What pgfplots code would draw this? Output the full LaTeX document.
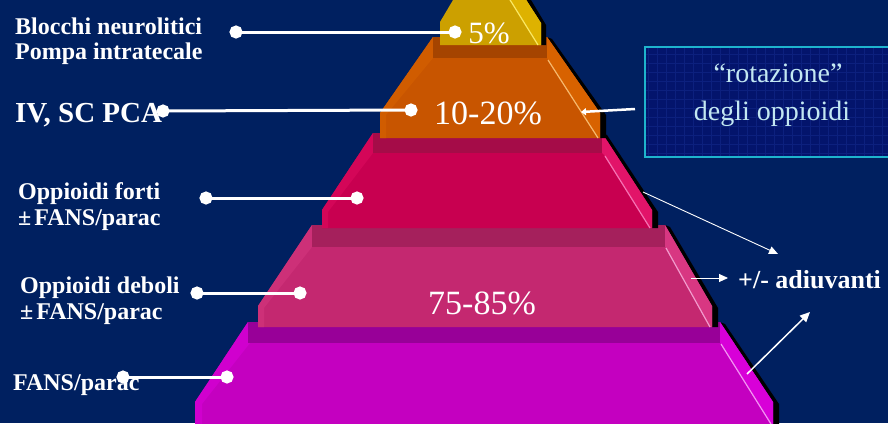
\documentclass[border=0pt]{standalone}
\usepackage{fontspec}
\setmainfont{Liberation Serif}
\usepackage{pgfplots}
\pgfplotsset{compat=1.18}
\usetikzlibrary{arrows.meta}
\definecolor{bg}{RGB}{0,32,96}
\definecolor{boxfill}{RGB}{3,20,108}
\definecolor{boxgrid}{RGB}{12,32,126}
\definecolor{boxedge}{RGB}{30,180,205}
\definecolor{boxtext}{RGB}{195,232,242}
\definecolor{yface}{RGB}{204,160,0}
\definecolor{ybev}{RGB}{222,178,0}
\definecolor{yline}{RGB}{250,232,100}
\definecolor{oface}{RGB}{200,85,0}
\definecolor{oshelf}{RGB}{165,68,0}
\definecolor{obev}{RGB}{216,98,0}
\definecolor{olbev}{RGB}{208,92,0}
\definecolor{oline}{RGB}{246,185,110}
\definecolor{cface}{RGB}{200,0,80}
\definecolor{cshelf}{RGB}{165,12,72}
\definecolor{cbev}{RGB}{226,20,105}
\definecolor{clbev}{RGB}{212,6,88}
\definecolor{cline}{RGB}{246,115,180}
\definecolor{pface}{RGB}{196,40,112}
\definecolor{pshelf}{RGB}{165,32,92}
\definecolor{pbev}{RGB}{216,55,130}
\definecolor{plbev}{RGB}{205,48,120}
\definecolor{pline}{RGB}{242,155,205}
\definecolor{mface}{RGB}{196,0,192}
\definecolor{mshelf}{RGB}{152,0,152}
\definecolor{mbev}{RGB}{216,0,216}
\definecolor{mlbev}{RGB}{208,0,206}
\definecolor{mline}{RGB}{242,150,242}
\begin{document}
\begin{tikzpicture}
\useasboundingbox (0,0) rectangle (888pt,423pt);
\fill[bg] (0,0) rectangle (888pt,423pt);
% text box with grid
\begin{scope}
\clip (645pt,266pt) rectangle (890pt,376pt);
\fill[boxfill] (645pt,266pt) rectangle (890pt,376pt);
\draw[boxgrid, line width=0.5pt, step=9pt] (630pt,250pt) grid (900pt,390pt);
\end{scope}
\draw[boxedge, line width=1.6pt] (645pt,266pt) rectangle (895pt,376pt);
\begin{axis}[at={(0,0)}, anchor=south west, width=888pt, height=423pt,
  scale only axis, xmin=0, xmax=888, ymin=0, ymax=423, y dir=reverse,
  hide axis, clip=true]
% ---------- tier 5 magenta
\addplot[fill=black, draw=none, forget plot] coordinates {(720,322) (725,324) (779,404) (779,425) (773,425) (773,402)};
\addplot[fill=mface, draw=none, forget plot] coordinates {(248,322) (720,322) (773,402) (773,425) (195,425) (195,402)};
\addplot[fill=mlbev, draw=none, forget plot] coordinates {(248,322) (195,402) (195,425) (202,425) (202,404) (250,343)};
\addplot[fill=mshelf, draw=none, forget plot] coordinates {(248,322) (720,322) (720,343) (248,343)};
\addplot[fill=mbev, draw=none, forget plot] coordinates {(720,322) (773,402) (773,425) (771,425) (721,344) (720,343)};
\addplot[mline, line width=1.2pt, forget plot] coordinates {(721,344) (771,424)};
% ---------- tier 4 pink
\addplot[fill=black, draw=none, forget plot] coordinates {(665,225) (670,227) (718,308) (718,327) (712,327) (712,306)};
\addplot[fill=pface, draw=none, forget plot] coordinates {(312,225) (665,225) (712,306) (712,327) (258,327) (258,306)};
\addplot[fill=plbev, draw=none, forget plot] coordinates {(312,225) (258,306) (258,327) (264,327) (264,308) (312,247)};
\addplot[fill=pshelf, draw=none, forget plot] coordinates {(312,225) (665,225) (665,247) (312,247)};
\addplot[fill=pbev, draw=none, forget plot] coordinates {(665,225) (712,306) (712,327) (710,327) (666,248) (665,247)};
\addplot[pline, line width=1.2pt, forget plot] coordinates {(666,248) (710,327)};
% ---------- tier 3 crimson
\addplot[fill=black, draw=none, forget plot] coordinates {(602,133) (607,135) (658,212) (658,228) (652,228) (652,210)};
\addplot[fill=cface, draw=none, forget plot] coordinates {(373,133) (602,133) (652,210) (652,228) (322,228) (322,210)};
\addplot[fill=clbev, draw=none, forget plot] coordinates {(373,133) (322,210) (322,228) (328,228) (328,212) (373,153)};
\addplot[fill=cshelf, draw=none, forget plot] coordinates {(373,133) (602,133) (602,153) (373,153)};
\addplot[fill=cbev, draw=none, forget plot] coordinates {(602,133) (652,210) (652,228) (650,228) (604,155) (602,153)};
\addplot[cline, line width=1.2pt, forget plot] coordinates {(605,156) (650,228)};
% ---------- tier 2 orange
\addplot[fill=black, draw=none, forget plot] coordinates {(547,37) (552,39) (606,115) (606,138) (600,138) (600,113)};
\addplot[fill=oface, draw=none, forget plot] coordinates {(433,37) (547,37) (600,113) (600,138) (380,138) (380,113)};
\addplot[fill=olbev, draw=none, forget plot] coordinates {(433,37) (380,113) (380,138) (386,138) (386,115) (433,58)};
\addplot[fill=oshelf, draw=none, forget plot] coordinates {(433,37) (547,37) (547,58) (433,58)};
\addplot[fill=obev, draw=none, forget plot] coordinates {(547,37) (600,113) (600,138) (598,138) (548,60) (547,58)};
\addplot[oline, line width=1.2pt, forget plot] coordinates {(548,60) (598,138)};
% ---------- tier 1 yellow
\addplot[fill=black, draw=none, forget plot] coordinates {(523,-5) (528,-5) (546,25) (546,45) (541,45) (541,23)};
\addplot[fill=yface, draw=none, forget plot] coordinates {(456,-5) (523,-5) (541,23) (541,45) (440,45) (440,22)};
\addplot[fill=ybev, draw=none, forget plot] coordinates {(507,-5) (523,-5) (541,23) (541,45) (538,45)};
\addplot[yline, line width=1.2pt, forget plot] coordinates {(507,-5) (538,45)};
% ---------- connectors with dots
\addplot[white, line width=3pt, mark=*, mark size=5pt, mark options={fill=white, draw=white}, forget plot] coordinates {(236,32) (455,32)};
\addplot[white, line width=3pt, mark=*, mark size=5pt, mark options={fill=white, draw=white}, forget plot] coordinates {(163,111) (411,110)};
\addplot[white, line width=3pt, mark=*, mark size=5pt, mark options={fill=white, draw=white}, forget plot] coordinates {(206,198) (357,198)};
\addplot[white, line width=3pt, mark=*, mark size=5pt, mark options={fill=white, draw=white}, forget plot] coordinates {(197,293) (300,293)};
\addplot[white, line width=3pt, mark=*, mark size=5pt, mark options={fill=white, draw=white}, forget plot] coordinates {(123,377) (227,377)};
% ---------- arrows
\addplot[white, line width=0.9pt, -{Triangle[length=9pt,width=8pt]}, forget plot] coordinates {(643,192) (778,254)};
\addplot[white, line width=0.9pt, -{Triangle[length=9pt,width=8pt]}, forget plot] coordinates {(691,278) (728,278)};
\addplot[white, line width=1.5pt, -{Triangle[length=10pt,width=9pt]}, forget plot] coordinates {(747,374) (810,312)};
\addplot[white, line width=2.5pt, -{Triangle[length=5pt,width=7pt]}, forget plot] coordinates {(635,109) (581,112)};
% ---------- texts
\node[anchor=base west, text=white, font=\fontsize{24}{26}\selectfont\bfseries, inner sep=0pt] at (axis cs:15,34) {Blocchi neurolitici};
\node[anchor=base west, text=white, font=\fontsize{24}{26}\selectfont\bfseries, inner sep=0pt] at (axis cs:15,59) {Pompa intratecale};
\node[anchor=base west, text=white, font=\fontsize{29}{31}\selectfont\bfseries, inner sep=0pt] at (axis cs:15,122) {IV, SC PCA};
\node[anchor=base west, text=white, font=\fontsize{24}{26}\selectfont\bfseries, inner sep=0pt] at (axis cs:18,199) {Oppioidi forti};
\node[anchor=base west, text=white, font=\fontsize{24}{26}\selectfont\bfseries, inner sep=0pt] at (axis cs:18,225) {±\hspace{3pt}FANS/parac};
\node[anchor=base west, text=white, font=\fontsize{24}{26}\selectfont\bfseries, inner sep=0pt] at (axis cs:20,293) {Oppioidi deboli};
\node[anchor=base west, text=white, font=\fontsize{24}{26}\selectfont\bfseries, inner sep=0pt] at (axis cs:20,319) {±\hspace{3pt}FANS/parac};
\node[anchor=base west, text=white, font=\fontsize{24}{26}\selectfont\bfseries, inner sep=0pt] at (axis cs:13,390) {FANS/parac};
\node[anchor=base west, text=white, font=\fontsize{26}{28}\selectfont\bfseries, inner sep=0pt] at (axis cs:738,288) {+/- adiuvanti};
\node[anchor=base, text=white, font=\fontsize{31}{33}\selectfont, inner sep=0pt] at (axis cs:489,43) {5\%};
\node[anchor=base, text=white, font=\fontsize{34}{36}\selectfont, inner sep=0pt] at (axis cs:488,124) {10-20\%};
\node[anchor=base, text=white, font=\fontsize{34}{36}\selectfont, inner sep=0pt] at (axis cs:482,314) {75-85\%};
\node[anchor=base, text=boxtext, font=\fontsize{28}{30}\selectfont, inner sep=0pt] at (axis cs:778,82) {“rotazione”};
\node[anchor=base, text=boxtext, font=\fontsize{28}{30}\selectfont, inner sep=0pt] at (axis cs:772,120) {degli oppioidi};
\end{axis}
\end{tikzpicture}
\end{document}
